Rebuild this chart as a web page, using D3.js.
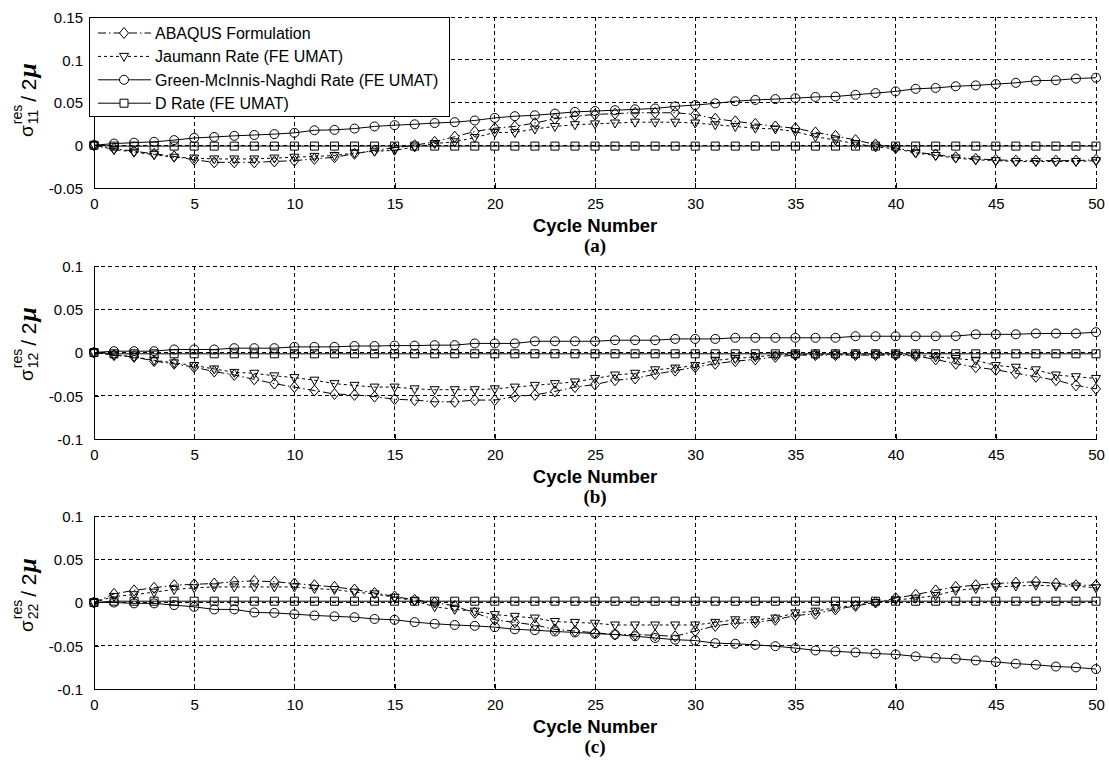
<!DOCTYPE html>
<html>
<head>
<meta charset="utf-8">
<script src="https://cdn.jsdelivr.net/npm/d3@7"></script>
<style>
  html, body { margin: 0; padding: 0; background: #fff; }
  svg { display: block; font-family: "Liberation Sans", Arial, sans-serif; }
</style>
</head>
<body>
<svg id="chart" width="1109" height="762"></svg>
<script>
// ---- data -------------------------------------------------------------
const cycles = [0,1,2,3,4,5,6,7,8,9,10,11,12,13,14,15,16,17,18,19,20,21,22,23,24,25,
  26,27,28,29,30,31,32,33,34,35,36,37,38,39,40,41,42,43,44,45,46,47,48,49,50];

const seriesNames = ["ABAQUS Formulation", "Jaumann Rate (FE UMAT)",
  "Green-McInnis-Naghdi Rate (FE UMAT)", "D Rate (FE UMAT)"];

const xTicks = [0,5,10,15,20,25,30,35,40,45,50];
const yTicksA = [-0.05, 0, 0.05, 0.1, 0.15];
const yTickLabelsA = ["-0.05", "0", "0.05", "0.1", "0.15"];
const yTicksBC = [-0.1, -0.05, 0, 0.05, 0.1];
const yTickLabelsBC = ["-0.1", "-0.05", "0", "0.05", "0.1"];

// (a) sigma_11
const abaqusA = [0,-0.004,-0.007,-0.010,-0.013,-0.017,-0.020,-0.020,-0.020,-0.019,
  -0.018,-0.016,-0.014,-0.010,-0.006,-0.003,0.000,0.004,0.010,0.016,
  0.020,0.022,0.026,0.031,0.034,0.036,0.037,0.038,0.038,0.038,
  0.036,0.031,0.028,0.025,0.022,0.020,0.015,0.011,0.006,0.001,
  -0.003,-0.008,-0.011,-0.014,-0.016,-0.017,-0.018,-0.018,-0.018,-0.018,-0.017];
const jaumannA = [0,-0.005,-0.008,-0.011,-0.014,-0.015,-0.016,-0.016,-0.016,-0.015,
  -0.014,-0.013,-0.012,-0.009,-0.007,-0.006,-0.002,0.002,0.004,0.009,
  0.015,0.015,0.019,0.022,0.024,0.025,0.026,0.027,0.027,0.027,
  0.026,0.024,0.022,0.020,0.019,0.016,0.010,0.006,0.002,-0.002,
  -0.004,-0.009,-0.012,-0.015,-0.017,-0.018,-0.019,-0.019,-0.019,-0.019,-0.018];
const gmnA = [0,0.002,0.003,0.004,0.006,0.0085,0.0097,0.011,0.012,0.013,
  0.0145,0.0175,0.018,0.0195,0.022,0.0235,0.0245,0.026,0.027,0.029,
  0.032,0.034,0.035,0.037,0.039,0.040,0.041,0.042,0.043,0.0455,
  0.047,0.049,0.0515,0.053,0.054,0.055,0.0565,0.057,0.059,0.061,
  0.063,0.066,0.067,0.069,0.070,0.0715,0.073,0.0755,0.076,0.078,0.079];
const dRateA = [0,-0.001,-0.001,-0.001,-0.001,-0.001,-0.001,-0.001,-0.001,-0.001,
  -0.001,-0.001,-0.001,-0.001,-0.001,-0.001,-0.001,-0.001,-0.001,-0.001,
  -0.001,-0.001,-0.001,-0.001,-0.001,-0.001,-0.001,-0.001,-0.001,-0.001,
  -0.001,-0.001,-0.001,-0.001,-0.001,-0.001,-0.001,-0.001,-0.001,-0.001,
  -0.001,-0.001,-0.001,-0.001,-0.001,-0.001,-0.001,-0.001,-0.001,-0.001,-0.001];

// (b) sigma_12
const abaqusB = [0,-0.003,-0.005,-0.010,-0.013,-0.017,-0.022,-0.026,-0.031,-0.036,
  -0.040,-0.044,-0.048,-0.049,-0.051,-0.054,-0.055,-0.057,-0.057,-0.055,
  -0.055,-0.051,-0.049,-0.045,-0.040,-0.037,-0.032,-0.030,-0.025,-0.021,
  -0.017,-0.013,-0.010,-0.008,-0.005,-0.003,-0.003,-0.003,-0.003,-0.003,
  -0.003,-0.004,-0.008,-0.013,-0.017,-0.020,-0.024,-0.028,-0.032,-0.038,-0.042];
const jaumannB = [0,-0.003,-0.005,-0.009,-0.012,-0.015,-0.019,-0.023,-0.024,-0.027,
  -0.029,-0.032,-0.036,-0.038,-0.040,-0.040,-0.042,-0.043,-0.043,-0.043,
  -0.042,-0.040,-0.038,-0.036,-0.034,-0.030,-0.026,-0.024,-0.020,-0.018,
  -0.015,-0.009,-0.007,-0.005,-0.003,-0.002,-0.002,-0.002,-0.002,-0.002,
  -0.002,-0.003,-0.005,-0.007,-0.009,-0.015,-0.017,-0.020,-0.026,-0.028,-0.030];
const gmnB = [0,0.0015,0.0015,0.0015,0.0035,0.0035,0.0035,0.005,0.005,0.005,
  0.0065,0.0065,0.0065,0.0075,0.0075,0.008,0.008,0.0085,0.0085,0.0105,
  0.0105,0.0105,0.013,0.013,0.013,0.013,0.0142,0.0142,0.0142,0.0157,
  0.0157,0.0157,0.017,0.017,0.017,0.017,0.017,0.017,0.0188,0.0188,
  0.0188,0.0188,0.0188,0.019,0.021,0.021,0.021,0.022,0.022,0.022,0.0235];
const dRateB = [0,-0.0015,-0.0015,-0.0015,-0.0015,-0.0015,-0.0015,-0.0015,-0.0015,-0.0015,
  -0.0015,-0.0015,-0.0015,-0.0015,-0.0015,-0.0015,-0.0015,-0.0015,-0.0015,-0.0015,
  -0.0015,-0.0015,-0.0015,-0.0015,-0.0015,-0.0015,-0.0015,-0.0015,-0.0015,-0.0015,
  -0.0015,-0.0015,-0.0015,-0.0015,-0.0015,-0.0015,-0.0015,-0.0015,-0.0015,-0.0015,
  -0.0015,-0.0015,-0.0015,-0.0015,-0.0015,-0.0015,-0.0015,-0.0015,-0.0015,-0.0015,-0.0015];

// (c) sigma_22
const abaqusC = [0,0.010,0.014,0.017,0.020,0.021,0.022,0.024,0.025,0.024,
  0.022,0.020,0.018,0.015,0.011,0.007,0.003,0.000,-0.004,-0.012,
  -0.020,-0.023,-0.026,-0.031,-0.033,-0.035,-0.037,-0.037,-0.038,-0.039,
  -0.033,-0.027,-0.024,-0.023,-0.020,-0.015,-0.013,-0.008,-0.004,0.000,
  0.005,0.009,0.014,0.018,0.020,0.022,0.023,0.024,0.022,0.020,0.020];
const jaumannC = [0,0.007,0.009,0.012,0.015,0.017,0.018,0.018,0.018,0.018,
  0.018,0.016,0.015,0.012,0.010,0.006,0.002,-0.005,-0.008,-0.010,
  -0.014,-0.016,-0.018,-0.022,-0.023,-0.024,-0.026,-0.026,-0.026,-0.026,
  -0.026,-0.023,-0.020,-0.020,-0.018,-0.012,-0.010,-0.006,-0.003,0.000,
  0.003,0.005,0.008,0.014,0.016,0.018,0.019,0.020,0.019,0.019,0.017];
const gmnC = [0,0.000,-0.001,-0.001,-0.003,-0.005,-0.008,-0.008,-0.0115,-0.012,
  -0.0135,-0.015,-0.016,-0.017,-0.019,-0.020,-0.0227,-0.0246,-0.026,-0.027,
  -0.0285,-0.031,-0.032,-0.0335,-0.0346,-0.036,-0.037,-0.039,-0.041,-0.043,
  -0.044,-0.047,-0.0477,-0.049,-0.0505,-0.0527,-0.0554,-0.0565,-0.0577,-0.059,
  -0.060,-0.0623,-0.064,-0.065,-0.067,-0.0688,-0.0707,-0.072,-0.074,-0.075,-0.077];
const dRateC = [0,0.0015,0.0015,0.0015,0.0015,0.0015,0.0015,0.0015,0.0015,0.0015,
  0.0015,0.0015,0.0015,0.0015,0.0015,0.0015,0.0015,0.0015,0.0015,0.0015,
  0.0015,0.0015,0.0015,0.0015,0.0015,0.0015,0.0015,0.0015,0.0015,0.0015,
  0.0015,0.0015,0.0015,0.0015,0.0015,0.0015,0.0015,0.0015,0.0015,0.0015,
  0.0015,0.0015,0.0015,0.0015,0.0015,0.0015,0.0015,0.0015,0.0015,0.0015,0.0015];

// ---- styling ----------------------------------------------------------
const seriesStyle = [
  { marker: "diamond",  dash: "8,3,1.5,3" },
  { marker: "triangle", dash: "3,3" },
  { marker: "circle",   dash: null },
  { marker: "square",   dash: null }
];

const panels = [
  { top: 17,  bottom: 188, domain: [-0.05, 0.15], ticks: yTicksA,  labels: yTickLabelsA,
    sub: "11", labelMid: 100, tag: "(a)", legend: true,
    series: [abaqusA, jaumannA, gmnA, dRateA] },
  { top: 266, bottom: 439, domain: [-0.1, 0.1],  ticks: yTicksBC, labels: yTickLabelsBC,
    sub: "12", labelMid: 344, tag: "(b)", legend: false,
    series: [abaqusB, jaumannB, gmnB, dRateB] },
  { top: 516, bottom: 689, domain: [-0.1, 0.1],  ticks: yTicksBC, labels: yTickLabelsBC,
    sub: "22", labelMid: 595, tag: "(c)", legend: false,
    series: [abaqusC, jaumannC, gmnC, dRateC] }
];

const left = 94, right = 1096;
const svg = d3.select("#chart");
const x = d3.scaleLinear().domain([0, 50]).range([left, right]);

// hollow marker outlines centred on (0,0)
function markerPath(type) {
  switch (type) {
    case "diamond":  return "M0,-5.5L4.5,0L0,5.5L-4.5,0Z";
    case "triangle": return "M-4.5,-3L4.5,-3L0,5Z";
    case "circle":   return "M4.5,0A4.5,4.5 0 1,1 -4.5,0A4.5,4.5 0 1,1 4.5,0Z";
    case "square":   return "M-4,-4L4,-4L4,4L-4,4Z";
  }
}

// rotated label: sigma with stacked "res" / component index, then "/ 2 mu"
function drawYLabel(cx, cy, sub) {
  const outer = svg.append("g").attr("transform", `translate(${cx},${cy}) rotate(-90)`);
  const g = outer.append("g");
  const sig = g.append("text").attr("x", 0).attr("y", 0)
    .attr("font-size", 19).text("σ");
  const sw = sig.node().getComputedTextLength();
  const sup = g.append("text").attr("x", sw + 1).attr("y", -11)
    .attr("font-size", 14).text("res");
  const sb = g.append("text").attr("x", sw + 1).attr("y", 5)
    .attr("font-size", 14).text(sub);
  const w2 = Math.max(sup.node().getComputedTextLength(), sb.node().getComputedTextLength());
  const slash = g.append("text").attr("x", sw + 1 + w2 + 3).attr("y", 3)
    .attr("font-size", 21).text("/ 2");
  const w3 = slash.node().getComputedTextLength();
  const mu = g.append("text").attr("x", sw + 1 + w2 + 3 + w3 + 1).attr("y", 3)
    .attr("font-size", 26).attr("font-weight", "bold").attr("font-style", "italic")
    .attr("font-family", "'Liberation Serif', 'Times New Roman', serif").text("μ");
  const total = sw + 1 + w2 + 3 + w3 + 1 + mu.node().getComputedTextLength();
  g.attr("transform", `translate(${-total / 2},0)`);
}

panels.forEach(p => {
  const y = d3.scaleLinear().domain(p.domain).range([p.bottom, p.top]);
  const g = svg.append("g");

  // dotted grid
  const grid = g.append("g").attr("stroke", "#000").attr("stroke-width", 1)
    .attr("stroke-dasharray", "4,3").attr("shape-rendering", "crispEdges");
  grid.selectAll("line.v").data(xTicks.filter(t => t > 0)).join("line")
    .attr("x1", d => x(d)).attr("x2", d => x(d))
    .attr("y1", p.top).attr("y2", p.bottom);
  grid.selectAll("line.h").data(p.ticks.filter(t => t > p.domain[0])).join("line")
    .attr("x1", left).attr("x2", right)
    .attr("y1", d => y(d)).attr("y2", d => y(d));

  // axes
  const xAxis = d3.axisBottom(x).tickValues(xTicks).tickFormat(d3.format("d"))
    .tickSizeInner(-5).tickSizeOuter(0).tickPadding(9);
  const yAxis = d3.axisLeft(y).tickValues(p.ticks)
    .tickFormat((d, i) => p.labels[i]).tickSizeInner(-5).tickSizeOuter(0).tickPadding(11);
  const gx = g.append("g").attr("transform", `translate(0,${p.bottom})`).call(xAxis);
  const gy = g.append("g").attr("transform", `translate(${left},0)`).call(yAxis);
  [gx, gy].forEach(a => {
    a.select(".domain").attr("stroke", "#000").attr("shape-rendering", "crispEdges");
    a.selectAll(".tick line").attr("stroke", "#000").attr("shape-rendering", "crispEdges");
    a.selectAll(".tick text").attr("fill", "#000").attr("font-size", 15)
      .attr("font-family", "'Liberation Sans', Arial, sans-serif");
  });
  gx.selectAll(".tick text").attr("dy", null).attr("y", 21).attr("dominant-baseline", null);
  gy.selectAll(".tick text").attr("dy", "0.36em");

  // series: lines then hollow markers
  p.series.forEach((vals, si) => {
    const st = seriesStyle[si];
    const pts = cycles.map((c, i) => [c, vals[i]]);
    g.append("path").datum(pts)
      .attr("fill", "none").attr("stroke", "#000").attr("stroke-width", 1)
      .attr("stroke-dasharray", st.dash)
      .attr("d", d3.line().x(d => x(d[0])).y(d => y(d[1])));
    g.append("g").selectAll("path").data(pts).join("path")
      .attr("transform", d => `translate(${x(d[0])},${y(d[1])})`)
      .attr("d", markerPath(st.marker))
      .attr("fill", "none").attr("stroke", "#000").attr("stroke-width", 1);
  });

  // axis titles
  g.append("text").attr("x", (left + right) / 2).attr("y", p.bottom + 43.5)
    .attr("text-anchor", "middle").attr("font-size", 18.5).attr("font-weight", "bold")
    .text("Cycle Number");
  g.append("text").attr("x", (left + right) / 2).attr("y", p.bottom + 64)
    .attr("text-anchor", "middle").attr("font-size", 19).attr("font-weight", "bold")
    .attr("font-family", "'Liberation Serif', 'Times New Roman', serif")
    .text(p.tag);
  drawYLabel(33, p.labelMid, p.sub);

  // legend
  if (p.legend) {
    const lg = g.append("g");
    lg.append("rect").attr("x", 89.5).attr("y", 17.5).attr("width", 360).attr("height", 99)
      .attr("fill", "#fff").attr("stroke", "#000").attr("stroke-width", 1);
    seriesNames.forEach((name, i) => {
      const ry = 33 + i * 23.4;
      const st = seriesStyle[i];
      lg.append("line").attr("x1", 98).attr("x2", 151).attr("y1", ry).attr("y2", ry)
        .attr("stroke", "#000").attr("stroke-width", 1).attr("stroke-dasharray", st.dash);
      lg.append("path").attr("transform", `translate(124,${ry})`)
        .attr("d", markerPath(st.marker)).attr("fill", "#fff")
        .attr("stroke", "#000").attr("stroke-width", 1);
      lg.append("text").attr("x", 155).attr("y", ry).attr("dy", "0.36em")
        .attr("font-size", 16).text(name);
    });
  }
});
</script>
</body>
</html>
